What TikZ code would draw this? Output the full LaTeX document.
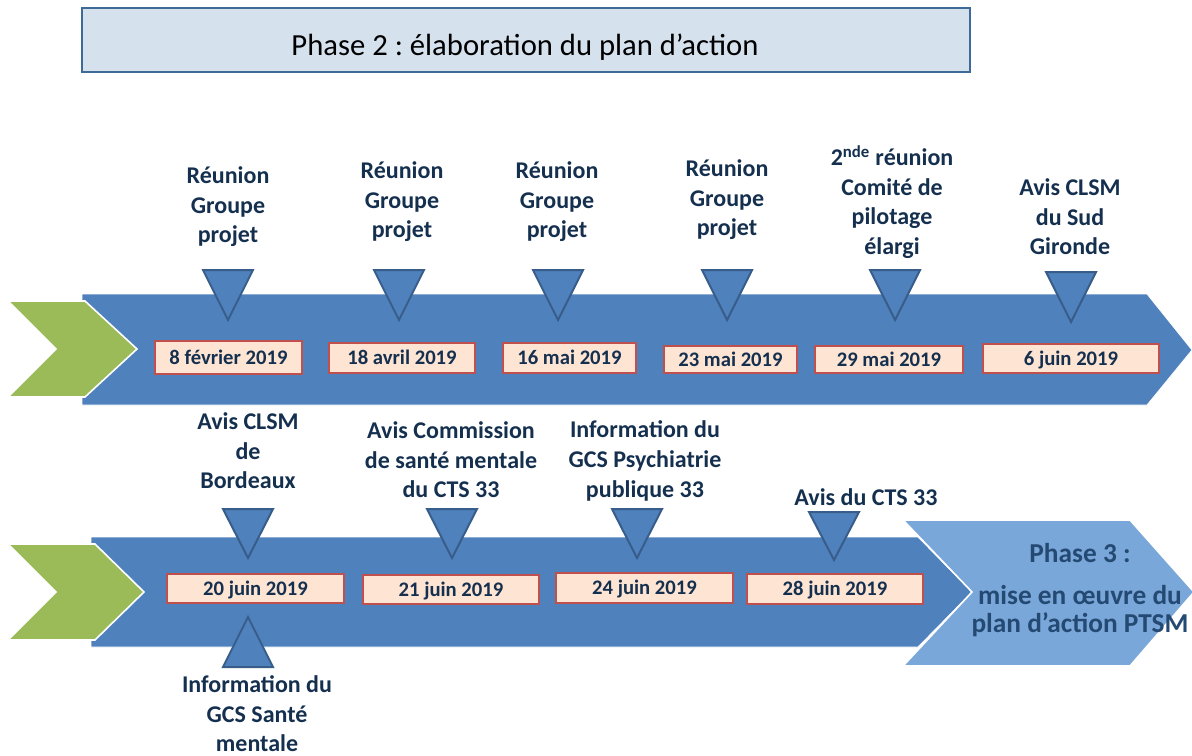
\documentclass[tikz,border=0pt]{standalone}
\usepackage{fontspec}
\setmainfont{Carlito}
\frenchspacing
\definecolor{arrowblue}{HTML}{4F81BD}
\definecolor{triborder}{HTML}{385D8A}
\definecolor{greenchev}{HTML}{9BBB59}
\definecolor{lightblue}{HTML}{7AA7D9}
\definecolor{peach}{HTML}{FDE4D3}
\definecolor{boxred}{HTML}{C0504D}
\definecolor{navy}{HTML}{15304F}
\definecolor{phasetext}{HTML}{244A73}
\definecolor{hdrfill}{HTML}{D5E2EE}
\definecolor{hdrborder}{HTML}{3E6A98}
\tikzset{
  bandshape/.style={fill=arrowblue, draw=white, line width=0.6pt},
  chevgreen/.style={fill=greenchev, draw=white, line width=1.2pt},
  phasethree/.style={fill=lightblue, draw=white, line width=1.2pt},
  marker/.style={fill=arrowblue, draw=triborder, line width=1.5pt, line join=miter},
  datebox/.style={fill=peach, draw=boxred, line width=0.8pt, inner sep=0pt,
    font=\fontsize{15.5}{18}\selectfont\bfseries, text=navy,
    text height=1.02em, text depth=0pt},
  eventlabel/.style={align=center, inner sep=0pt, text=navy,
    font=\fontsize{18}{22.2}\selectfont\bfseries},
  headerbox/.style={fill=hdrfill, draw=hdrborder, line width=2pt, inner sep=0pt},
}
\begin{document}
\begin{tikzpicture}[x=0.75pt,y=-0.75pt]
\useasboundingbox (0,0) rectangle (1192,756);

% header
\node[headerbox, minimum width=666pt, minimum height=48pt] (hdr) at (526,40) {};
\node[inner sep=0pt, font=\fontsize{23}{27}\selectfont, text=black] (hdrtext) at (525,47) {Phase 2 : élaboration du plan d’action};

% upper band
\path[bandshape] (82,294) -- (1147,294) -- (1192,350) -- (1147,405) -- (82,405) -- cycle;
\path[chevgreen] (8,301) -- (85,301) -- (137,349) -- (85,397) -- (8,397) -- (56,349) -- cycle;

% lower band
\path[bandshape] (91,537) -- (918,537) -- (972,592) -- (918,647) -- (91,647) -- cycle;
\path[chevgreen] (8,544) -- (95,544) -- (144,592) -- (95,640) -- (8,640) -- (56,592) -- cycle;
\path[phasethree] (903,520) -- (1130,520) -- (1194,592) -- (1130,666) -- (903,666) -- (972,592) -- cycle;
\node[align=center, inner sep=0pt, text=phasetext, font=\fontsize{20.5}{21}\selectfont\bfseries] (ph3) at (1080,590)
  {Phase 3 :\\[10pt] mise en œuvre du\\ plan d’action PTSM};

% upper markers
\foreach \x in {228,399,558,727,895} {
  \path[marker] (\x-25,270) -- (\x+25,270) -- (\x,320) -- cycle;
}
\path[marker] (1046,272) -- (1096,272) -- (1071,322) -- cycle;

% lower markers
\foreach \x in {248,452,637} {
  \path[marker] (\x-25,509) -- (\x+25,509) -- (\x,558) -- cycle;
}
\path[marker] (809,512) -- (859,512) -- (834,560) -- cycle;
\path[marker] (223,667) -- (273,667) -- (248,617) -- cycle;

% upper date boxes
\node[datebox, minimum width=110.25pt, minimum height=24.75pt] (d1) at (228.5,357.5) {8 février 2019};
\node[datebox, minimum width=109.5pt, minimum height=22.5pt] (d2) at (402,358) {18 avril 2019};
\node[datebox, minimum width=99.75pt, minimum height=22.5pt] (d3) at (569.5,358) {16 mai 2019};
\node[datebox, minimum width=99.75pt, minimum height=20.25pt] (d4) at (730.5,359.5) {23 mai 2019};
\node[datebox, minimum width=111pt, minimum height=20.25pt] (d5) at (889,359.5) {29 mai 2019};
\node[datebox, minimum width=132pt, minimum height=21.75pt] (d6) at (1071,358.5) {6 juin 2019};

% lower date boxes
\node[datebox, minimum width=132.75pt, minimum height=21.75pt] (e1) at (255.5,588.5) {20 juin 2019};
\node[datebox, minimum width=132pt, minimum height=21.75pt] (e2) at (451,589.5) {21 juin 2019};
\node[datebox, minimum width=132.75pt, minimum height=22.5pt] (e3) at (644.5,588) {24 juin 2019};
\node[datebox, minimum width=132pt, minimum height=22.5pt] (e4) at (835,589) {28 juin 2019};

% upper labels
\node[eventlabel] (l1) at (228,207) {Réunion\\Groupe\\projet};
\node[eventlabel] (l2) at (402,202) {Réunion\\Groupe\\projet};
\node[eventlabel] (l3) at (557,202) {Réunion\\Groupe\\projet};
\node[eventlabel] (l4) at (727,200) {Réunion\\Groupe\\projet};
\node[eventlabel] (l5) at (892,202) {2\textsuperscript{nde} réunion\\Comité de\\pilotage\\élargi};
\node[eventlabel] (l6) at (1070,217) {Avis CLSM\\du Sud\\Gironde};

% lower labels
\node[eventlabel] (m1) at (248,451) {Avis CLSM\\de\\Bordeaux};
\node[eventlabel] (m2) at (451,460) {Avis Commission\\de santé mentale\\du CTS 33};
\node[eventlabel] (m3) at (645,461) {Information du\\GCS Psychiatrie\\publique 33};
\node[eventlabel] (m4) at (866,497) {Avis du CTS 33};
\node[eventlabel] (m5) at (257,714) {Information du\\GCS Santé\\mentale};
\end{tikzpicture}
\end{document}
